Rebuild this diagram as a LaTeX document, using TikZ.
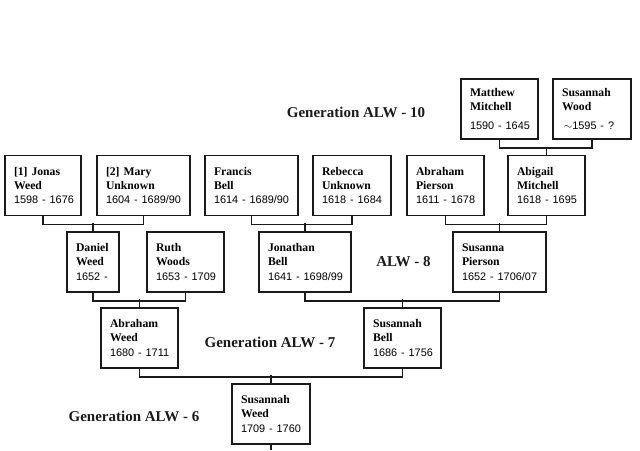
\documentclass[tikz,border=0pt]{standalone}
\usepackage{fontspec}
\setmainfont{Liberation Serif}
\newfontfamily\datefont{Liberation Sans}
\usepackage{xcolor}
\definecolor{treeink}{HTML}{1A1A1A}
\newcommand{\person}[4][0.5pt]{\textbf{#2}\\\textbf{#3}\\[#1]\mbox{\datefont\fontsize{10.9}{14}\selectfont #4}}
\newcommand{\couple}[3]{%
  \draw[treeline] (#1.south) -- ++(0,8) -| (#2.south);
  \draw[treeline] (#3.north) -- ++(0,-8);
}

\begin{document}
\begin{tikzpicture}[
  x=1pt,
  y=-1pt,
  treeline/.style={treeink, line width=1.6pt},
  personbox/.style={draw=treeink, line width=1.6pt, minimum height=60pt,
    inner xsep=9pt, text width=#1, align=left,
    font=\fontsize{11.7}{14}\selectfont},
  genlabel/.style={treeink, font=\fontsize{15}{18}\selectfont\bfseries}
]
  \useasboundingbox (0,0) rectangle (640,450);

  % generation 10
  \node[personbox=59pt] (matthew) at (499.5,109) {\person[5pt]{Matthew}{Mitchell}{1590 - 1645}};
  \node[personbox=60pt] (swood) at (592,109) {\person[5pt]{Susannah}{Wood}{\,$\sim$1595 - ?}};

  % generation 9
  \node[personbox=58pt] (jonas) at (43,185.5) {\person{[1] Jonas}{Weed}{1598 - 1676}};
  \node[personbox=75pt] (mary) at (143.5,185.5) {\person{[2] Mary}{Unknown}{1604 - 1689/90}};
  \node[personbox=75pt] (francis) at (251.5,185.5) {\person{Francis}{Bell}{1614 - 1689/90}};
  \node[personbox=60pt] (rebecca) at (352,185.5) {\person{Rebecca}{Unknown}{1618 - 1684}};
  \node[personbox=59pt] (apierson) at (445.5,185.5) {\person{Abraham}{Pierson}{1611 - 1678}};
  \node[personbox=59pt] (abigail) at (546.5,185.5) {\person{Abigail}{Mitchell}{1618 - 1695}};

  % generation 8
  \node[personbox=34pt] (daniel) at (93,262) {\person{Daniel}{Weed}{1652 -}};
  \node[personbox=59pt] (ruth) at (185.5,262) {\person{Ruth}{Woods}{1653 - 1709}};
  \node[personbox=74pt] (jonathan) at (305,262) {\person{Jonathan}{Bell}{1641 - 1698/99}};
  \node[personbox=75pt] (susanna) at (499.5,262) {\person{Susanna}{Pierson}{1652 - 1706/07}};

  % generation 7
  \node[personbox=59pt] (aweed) at (139.5,338) {\person{Abraham}{Weed}{1680 - 1711}};
  \node[personbox=59pt] (sbell) at (402.5,338) {\person{Susannah}{Bell}{1686 - 1756}};

  % generation 6
  \node[personbox=60pt] (sweed) at (271,414) {\person{Susannah}{Weed}{1709 - 1760}};
  \coordinate (trunk) at (271,450);

  \couple{matthew}{swood}{abigail}
  \couple{jonas}{mary}{daniel}
  \couple{francis}{rebecca}{jonathan}
  \couple{apierson}{abigail}{susanna}
  \couple{daniel}{ruth}{aweed}
  \couple{jonathan}{susanna}{sbell}
  \couple{aweed}{sbell}{sweed}
  \draw[treeline] (sweed.south) -- (trunk);

  \node[genlabel] (gen10) at (356,112) {Generation ALW - 10};
  \node[genlabel] (gen8) at (403.5,262) {ALW - 8};
  \node[genlabel] (gen7) at (270,342) {Generation ALW - 7};
  \node[genlabel] (gen6) at (134,416) {Generation ALW - 6};
\end{tikzpicture}
\end{document}
